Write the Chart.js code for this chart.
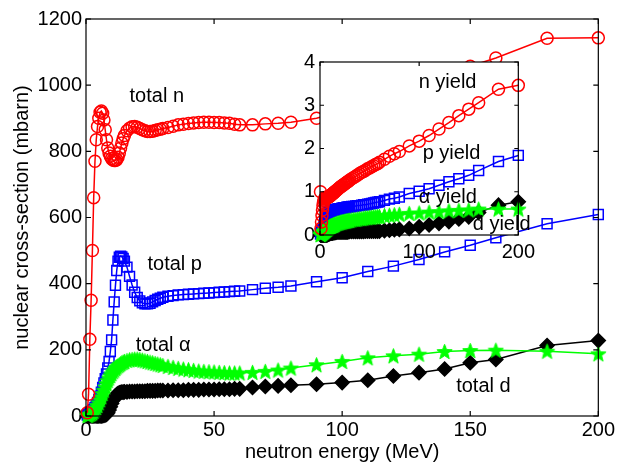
<!DOCTYPE html>
<html>
<head>
<meta charset="utf-8">
<script src="https://cdn.jsdelivr.net/npm/chart.js@4.4.1/dist/chart.umd.min.js"></script>
<style>
body { margin: 0; background: #fff; }
#wrap { position: relative; width: 617px; height: 466px; }
#main { position: absolute; left: 0; top: 0; }
#inset { position: absolute; left: 280px; top: 45px; }
</style>
</head>
<body>
<div id="wrap">
<canvas id="main" width="617" height="466"></canvas>
<canvas id="inset" width="260" height="230"></canvas>
</div>
<script>
// neutron energies (MeV), shared by every curve
const energies = [0.5,1,1.5,2,2.5,3,3.5,4,4.5,5,
  5.5,6,6.5,7,7.5,8,8.5,9,9.5,10,
  10.5,11,11.5,12,12.5,13,13.5,14,14.5,15,
  16,17,18,19,20,21,22,23,24,25,
  26,27,28,29,30,32,34,36,38,40,
  42,44,46,48,50,52,54,56,58,60,
  65,70,75,80,90,100,110,120,130,140,150,160,180,200];

// total cross-sections (mbarn)
const totalN = [10,66,232,350,500,660,770,835,875,900,
  918,922,915,895,865,835,810,795,785,778,
  774,772,772,775,782,795,810,825,838,848,
  862,870,874,875,873,869,865,862,860,860,
  861,863,865,867,869,872,876,880,882,884,
  886,887,888,888,887,887,886,885,882,880,
  880,883,885,888,900,922,948,975,1003,1030,1057,1082,1142,1143];
const totalP = [3,5,8,11,15,20,26,33,41,50,
  60,72,86,100,113,127,145,165,195,230,
  290,345,395,440,468,480,483,481,476,468,
  450,422,396,374,358,348,342,339,339,341,
  345,349,353,356,359,362,364,366,367,368,
  369,370,371,372,373,374,375,376,377,378,
  382,386,389,393,406,418,437,453,473,496,516,539,581,609];
const totalA = [2,3,5,7,10,14,19,25,32,40,
  49,58,68,78,88,98,107,115,122,128,
  134,139,144,148,152,155,158,161,163,165,
  168,170,171,172,172,171,169,167,165,163,
  161,159,157,155,153,150,147,144,142,140,
  138,136,135,134,133,132,131,130,130,130,
  132,135,139,145,155,165,176,182,187,195,198,199,196,188];
const totalD = [0,0,0,0,0,0,0,0,0,0,
  0,0,1,2,3,5,10,18,28,38,
  47,55,61,65,68,70,71,72,72,73,
  73,74,74,74,75,75,75,75,76,76,
  76,76,77,77,77,77,78,78,78,79,
  79,79,80,80,80,81,81,81,82,82,
  86,89,91,93,96,101,108,121,131,142,161,171,213,228];

// yields (inset)
const yieldN = [1.0,0.15,0.3,0.45,0.58,0.68,0.75,0.8,0.83,0.85,
  0.86,0.87,0.87,0.87,0.87,0.87,0.88,0.88,0.89,0.9,
  0.91,0.92,0.93,0.94,0.95,0.96,0.97,0.98,0.99,1.0,
  1.02,1.04,1.06,1.08,1.1,1.12,1.13,1.15,1.17,1.18,
  1.2,1.22,1.23,1.25,1.27,1.3,1.33,1.36,1.39,1.42,
  1.45,1.47,1.5,1.53,1.55,1.58,1.6,1.63,1.65,1.68,
  1.75,1.82,1.88,1.93,2.06,2.17,2.30,2.45,2.60,2.76,2.91,3.06,3.37,3.46];
const yieldP = [0.02,0.04,0.06,0.08,0.1,0.13,0.16,0.2,0.25,0.3,
  0.3,0.35,0.4,0.44,0.47,0.5,0.52,0.53,0.54,0.55,
  0.55,0.56,0.56,0.56,0.57,0.57,0.57,0.58,0.58,0.58,
  0.59,0.59,0.6,0.6,0.61,0.61,0.62,0.62,0.63,0.63,
  0.63,0.64,0.64,0.65,0.65,0.66,0.66,0.67,0.68,0.68,
  0.69,0.7,0.7,0.71,0.72,0.73,0.74,0.75,0.76,0.77,
  0.8,0.83,0.85,0.88,0.96,1.01,1.07,1.15,1.23,1.30,1.38,1.49,1.70,1.84];
const yieldA = [0.01,0.02,0.03,0.04,0.05,0.06,0.07,0.08,0.09,0.1,
  0.11,0.12,0.13,0.14,0.15,0.16,0.17,0.18,0.19,0.2,
  0.2,0.21,0.21,0.22,0.22,0.23,0.23,0.24,0.24,0.25,
  0.26,0.27,0.28,0.28,0.29,0.3,0.3,0.31,0.31,0.32,
  0.32,0.33,0.33,0.34,0.34,0.35,0.36,0.36,0.37,0.38,
  0.38,0.39,0.4,0.4,0.41,0.41,0.42,0.42,0.43,0.43,
  0.45,0.46,0.47,0.48,0.5,0.51,0.53,0.54,0.56,0.57,0.58,0.6,0.6,0.6];
const yieldD = [0,0,0,0,0,0,0,0,0,0,
  0,0,0,0.01,0.01,0.02,0.02,0.03,0.03,0.04,
  0.04,0.04,0.05,0.05,0.05,0.05,0.06,0.06,0.06,0.06,
  0.06,0.07,0.07,0.07,0.07,0.07,0.07,0.07,0.07,0.07,
  0.07,0.07,0.07,0.08,0.08,0.08,0.08,0.08,0.08,0.08,
  0.08,0.08,0.09,0.09,0.09,0.09,0.09,0.09,0.09,0.09,
  0.1,0.11,0.12,0.13,0.15,0.19,0.23,0.27,0.31,0.37,0.42,0.52,0.69,0.77];

// tick values
const mainXTicks = [0,50,100,150,200];
const mainYTicks = [0,200,400,600,800,1000,1200];
const insetXTicks = [0,100,200];
const insetYTicks = [0,1,2,3,4];

const FONT = '"Liberation Sans", Arial, sans-serif';
Chart.defaults.font.family = FONT;
Chart.defaults.font.size = 20;
Chart.defaults.color = '#000';

// pentagram marker
function pentagram(size, color) {
  var c = document.createElement('canvas');
  c.width = size; c.height = size;
  var g = c.getContext('2d');
  var R = size / 2 - 0.5, r = R * 0.42, cx = size / 2, cy = size / 2 + 0.8;
  g.beginPath();
  for (let i = 0; i < 10; i++) {
    var rad = i % 2 ? r : R;
    var a = -Math.PI / 2 + i * Math.PI / 5;
    g.lineTo(cx + rad * Math.cos(a), cy + rad * Math.sin(a));
  }
  g.closePath();
  g.fillStyle = color; g.fill();
  g.strokeStyle = color; g.lineWidth = 1; g.stroke();
  return c;
}
const star = pentagram(17, '#00ff00');

function series(ys, color, style, radius, fill) {
  return {
    data: energies.map((e, i) => ({x: e, y: ys[i]})),
    borderColor: color,
    backgroundColor: fill,
    pointStyle: style,
    pointRadius: radius,
    pointBorderColor: color,
    pointBackgroundColor: fill,
    pointBorderWidth: 1.5,
    borderWidth: 1.5,
    showLine: true,
    clip: false,
    tension: 0
  };
}

// box with inward ticks, MATLAB style
function boxPlugin(tickLen, fillWhite) {
  return {
    id: 'box',
    beforeDraw(chart) {
      if (!fillWhite) return;
      var a = chart.chartArea, ctx = chart.ctx;
      ctx.save();
      ctx.fillStyle = '#fff';
      ctx.fillRect(a.left, a.top, a.right - a.left, a.bottom - a.top);
      ctx.restore();
    },
    afterDatasetsDraw(chart) {
      var a = chart.chartArea, ctx = chart.ctx;
      var xs = chart.scales.x, ys = chart.scales.y;
      ctx.save();
      ctx.strokeStyle = '#000';
      ctx.lineWidth = 1.2;
      ctx.strokeRect(a.left, a.top, a.right - a.left, a.bottom - a.top);
      ctx.beginPath();
      xs.ticks.forEach(t => {
        var px = xs.getPixelForValue(t.value);
        ctx.moveTo(px, a.bottom); ctx.lineTo(px, a.bottom - tickLen);
        ctx.moveTo(px, a.top); ctx.lineTo(px, a.top + tickLen);
      });
      ys.ticks.forEach(t => {
        var py = ys.getPixelForValue(t.value);
        ctx.moveTo(a.left, py); ctx.lineTo(a.left + tickLen, py);
        ctx.moveTo(a.right, py); ctx.lineTo(a.right - tickLen, py);
      });
      ctx.stroke();
      ctx.restore();
    }
  };
}

function labelPlugin(items) {
  return {
    id: 'labels',
    afterDraw(chart) {
      var ctx = chart.ctx, xs = chart.scales.x, ys = chart.scales.y;
      ctx.save();
      ctx.font = '20px ' + FONT;
      ctx.fillStyle = '#000';
      ctx.textBaseline = 'middle';
      ctx.textAlign = 'left';
      items.forEach(it => ctx.fillText(it.text, xs.getPixelForValue(it.x), ys.getPixelForValue(it.y)));
      ctx.restore();
    }
  };
}

const plain = v => String(v);

var mainChart = new Chart(document.getElementById('main'), {
  type: 'line',
  data: {
    datasets: [
      series(totalN, '#ff0000', 'circle', 6, 'rgba(0,0,0,0)'),
      series(totalA, '#00ff00', star, 7, '#00ff00'),
      series(totalP, '#0000ff', 'rect', 7, 'rgba(0,0,0,0)'),
      series(totalD, '#000000', 'rectRot', 7, '#000000')
    ]
  },
  options: {
    responsive: false,
    animation: false,
    layout: { padding: { left: 0, top: 19, right: 16, bottom: 0 } },
    plugins: { legend: { display: false }, tooltip: { enabled: false } },
    scales: {
      x: {
        type: 'linear', min: 0, max: 200,
        afterBuildTicks: s => { s.ticks = mainXTicks.map(v => ({value: v})); },
        afterFit: s => { s.height = 50; },
        grid: { display: false, drawTicks: false },
        border: { display: false },
        ticks: { padding: 2, maxRotation: 0, callback: plain },
        title: { display: true, text: 'neutron energy (MeV)', padding: { top: 0, bottom: 2 } }
      },
      y: {
        type: 'linear', min: 0, max: 1200,
        afterBuildTicks: s => { s.ticks = mainYTicks.map(v => ({value: v})); },
        afterFit: s => { s.width = 86; },
        grid: { display: false, drawTicks: false },
        border: { display: false },
        ticks: { padding: 4, callback: plain },
        title: { display: true, text: 'nuclear cross-section (mbarn)', padding: { top: 10, bottom: 0 } }
      }
    }
  },
  plugins: [boxPlugin(5, false), labelPlugin([
    {text: 'total n', x: 17, y: 965},
    {text: 'total p', x: 24, y: 458},
    {text: 'total \u03b1', x: 19.4, y: 214},
    {text: 'total d', x: 144.5, y: 90}
  ])]
});

var insetChart = new Chart(document.getElementById('inset'), {
  type: 'line',
  data: {
    datasets: [
      series(yieldN, '#ff0000', 'circle', 6, 'rgba(0,0,0,0)'),
      series(yieldA, '#00ff00', star, 7, '#00ff00'),
      series(yieldP, '#0000ff', 'rect', 7, 'rgba(0,0,0,0)'),
      series(yieldD, '#000000', 'rectRot', 7, '#000000')
    ]
  },
  options: {
    responsive: false,
    animation: false,
    layout: { padding: { left: 0, top: 16, right: 20, bottom: 0 } },
    plugins: { legend: { display: false }, tooltip: { enabled: false } },
    scales: {
      x: {
        type: 'linear', min: 0, max: 200,
        afterBuildTicks: s => { s.ticks = insetXTicks.map(v => ({value: v})); },
        afterFit: s => { s.height = 40; },
        grid: { display: false, drawTicks: false },
        border: { display: false },
        ticks: { padding: 5, maxRotation: 0, callback: plain }
      },
      y: {
        type: 'linear', min: 0, max: 4,
        afterBuildTicks: s => { s.ticks = insetYTicks.map(v => ({value: v})); },
        afterFit: s => { s.width = 40; },
        grid: { display: false, drawTicks: false },
        border: { display: false },
        ticks: { padding: 5, callback: plain }
      }
    }
  },
  plugins: [boxPlugin(4, true), labelPlugin([
    {text: 'n yield', x: 99.5, y: 3.52},
    {text: 'p yield', x: 103.5, y: 1.89},
    {text: '\u03b1 yield', x: 99.5, y: 0.87},
    {text: 'd yield', x: 154, y: 0.25}
  ])]
});
</script>
</body>
</html>
